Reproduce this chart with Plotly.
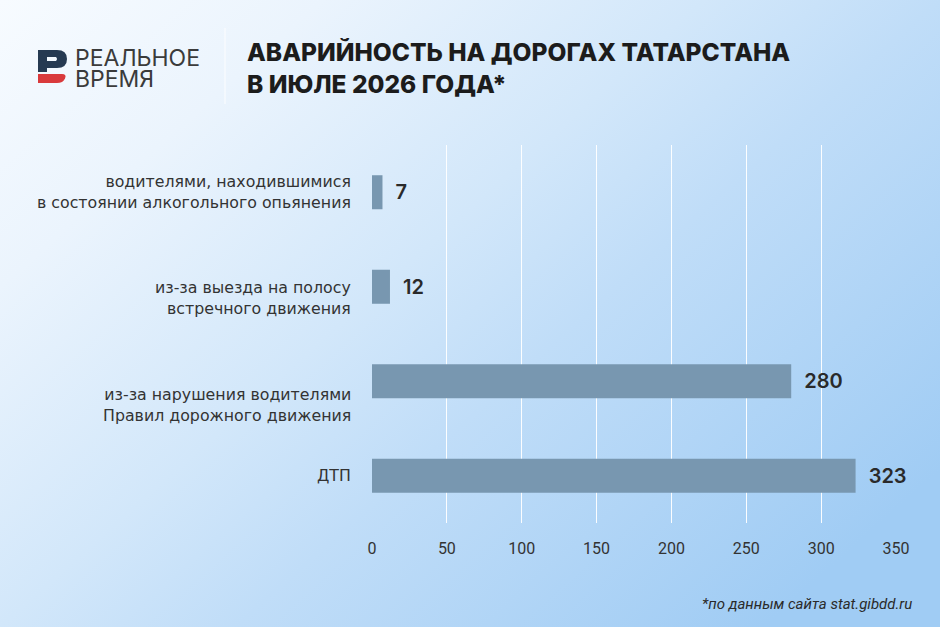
import base64
import plotly.graph_objects as go

W, H = 940, 627

# data
categories = [
    'водителями, находившимися<br>в состоянии алкогольного опьянения',
    'из-за выезда на полосу<br>встречного движения',
    'из-за нарушения водителями<br>Правил дорожного движения',
    'ДТП',
]
values = [7, 12, 280, 323]
x_ticks = [0, 50, 100, 150, 200, 250, 300, 350]

title_text = 'АВАРИЙНОСТЬ НА ДОРОГАХ ТАТАРСТАНА<br>В ИЮЛЕ 2026 ГОДА*'
source_text = '*по данным сайта stat.gibdd.ru'

# category labels in the original sit a little lower than their bars (px)
label_drop = [0, 11, 24, 0]

BAR_COLOR = '#7897b0'
TEXT_COLOR = '#2a2a2a'


# helpers: pixel -> paper coords (margins are 0, so paper == whole picture)
def px(x):
    return x / W


def py(y):
    return 1 - y / H


def path_from_points(cmds):
    out = []
    for c in cmds:
        if isinstance(c, str):
            out.append(c)
        else:
            out.append(f'{px(c[0]):.5f},{py(c[1]):.5f}')
    return ' '.join(out)


# background gradient as a small svg image
svg = (
    "<svg xmlns='http://www.w3.org/2000/svg' width='940' height='627' preserveAspectRatio='none'>"
    "<defs><linearGradient id='g' x1='0' y1='0' x2='1' y2='0.75'>"
    "<stop offset='0' stop-color='#f7fbff'/>"
    "<stop offset='0.22' stop-color='#ebf4fd'/>"
    "<stop offset='0.48' stop-color='#d2e7fa'/>"
    "<stop offset='0.64' stop-color='#c0ddf8'/>"
    "<stop offset='1' stop-color='#a0ccf4'/>"
    "</linearGradient></defs>"
    "<rect width='940' height='627' fill='url(#g)'/></svg>"
)
bg_src = 'data:image/svg+xml;base64,' + base64.b64encode(svg.encode()).decode()

fig = go.Figure()

fig.add_trace(go.Bar(
    x=values,
    y=categories,
    orientation='h',
    width=0.36,
    marker=dict(color=BAR_COLOR, line=dict(width=0)),
    text=values,
    texttemplate='  %{x}',
    textposition='outside',
    textfont=dict(family='Inter, Open Sans, sans-serif', size=20, color=TEXT_COLOR, weight=600),
    cliponaxis=False,
    hoverinfo='skip',
))

fig.update_layout(
    width=W,
    height=H,
    margin=dict(l=0, r=0, t=0, b=0),
    paper_bgcolor='#cfe5fa',
    plot_bgcolor='rgba(0,0,0,0)',
    showlegend=False,
    xaxis=dict(
        domain=[px(372), px(896)],
        range=[0, 350],
        tickvals=x_ticks,
        showgrid=True,
        gridcolor='rgba(255,255,255,0.95)',
        gridwidth=1,
        zeroline=False,
        showline=False,
        ticks='',
        ticklabelstandoff=14,
        tickfont=dict(family='Roboto, sans-serif', size=16, color='#333333'),
        automargin=False,
        fixedrange=True,
    ),
    yaxis=dict(
        domain=[py(523), py(145)],
        categoryorder='array',
        categoryarray=categories[::-1],
        range=[-0.5, 3.5],
        showgrid=False,
        zeroline=False,
        showline=False,
        showticklabels=False,
        ticks='',
        automargin=False,
        fixedrange=True,
    ),
    images=[dict(
        source=bg_src, xref='paper', yref='paper', x=0, y=1,
        sizex=1, sizey=1, sizing='stretch', layer='below',
    )],
)

# category labels, right-aligned next to the bars
for cat, drop in zip(categories, label_drop):
    fig.add_annotation(text=cat, xref='paper', yref='y', x=px(353), y=cat,
                       xanchor='right', yanchor='middle', align='right', showarrow=False,
                       yshift=-drop,
                       font=dict(family='DejaVu Sans, sans-serif', size=15.8, color='#333333'))

# logo mark: navy "Р" and red lower stroke
navy_path = path_from_points([
    'M', (38, 50), 'L', (57, 50), 'Q', (67, 50), (67, 59), 'Q', (67, 68), (57, 68),
    'L', (47, 68), 'L', (47, 72), 'L', (38, 72), 'Z',
    'M', (47, 57), 'L', (47, 61), 'L', (56, 61), 'Q', (58, 59), (56, 57), 'Z',
])
red_path = path_from_points([
    'M', (38, 74), 'L', (62, 74), 'Q', (67, 74), (65, 78.5), 'Q', (63, 83), (57, 83),
    'L', (38, 83), 'Z',
])
fig.add_shape(type='path', path=navy_path, xref='paper', yref='paper',
              fillcolor='#263a52', line=dict(width=0))
fig.add_shape(type='path', path=red_path, xref='paper', yref='paper',
              fillcolor='#d93a3c', line=dict(width=0))

# thin separator between logo and title
fig.add_shape(type='line', xref='paper', yref='paper',
              x0=px(225), x1=px(225), y0=py(28), y1=py(104),
              line=dict(color='rgba(255,255,255,0.9)', width=1))

logo_font = dict(family='Inter, sans-serif', size=23, color='#3b3b3b', weight=400)
fig.add_annotation(text='РЕАЛЬНОЕ', xref='paper', yref='paper', x=px(73), y=py(58.5),
                   xanchor='left', yanchor='middle', showarrow=False, font=logo_font)
fig.add_annotation(text='ВРЕМЯ', xref='paper', yref='paper', x=px(73), y=py(78.5),
                   xanchor='left', yanchor='middle', showarrow=False, font=logo_font)

# title
fig.add_annotation(text=title_text, xref='paper', yref='paper', x=px(245), y=py(68),
                   xanchor='left', yanchor='middle', align='left', showarrow=False,
                   font=dict(family='Inter, sans-serif', size=24.5, color='#1c1c1c', weight=800))

# source note
fig.add_annotation(text=source_text, xref='paper', yref='paper', x=px(914), y=py(604),
                   xanchor='right', yanchor='middle', showarrow=False,
                   font=dict(family='Liberation Sans Narrow, Roboto, sans-serif', size=15,
                             color='#2a2a2a', style='italic'))

# page has a default body margin; remove it so the figure fills the window
fig.write_html("out.html", config={'displayModeBar': False},
               post_script="document.body.style.margin='0';")
